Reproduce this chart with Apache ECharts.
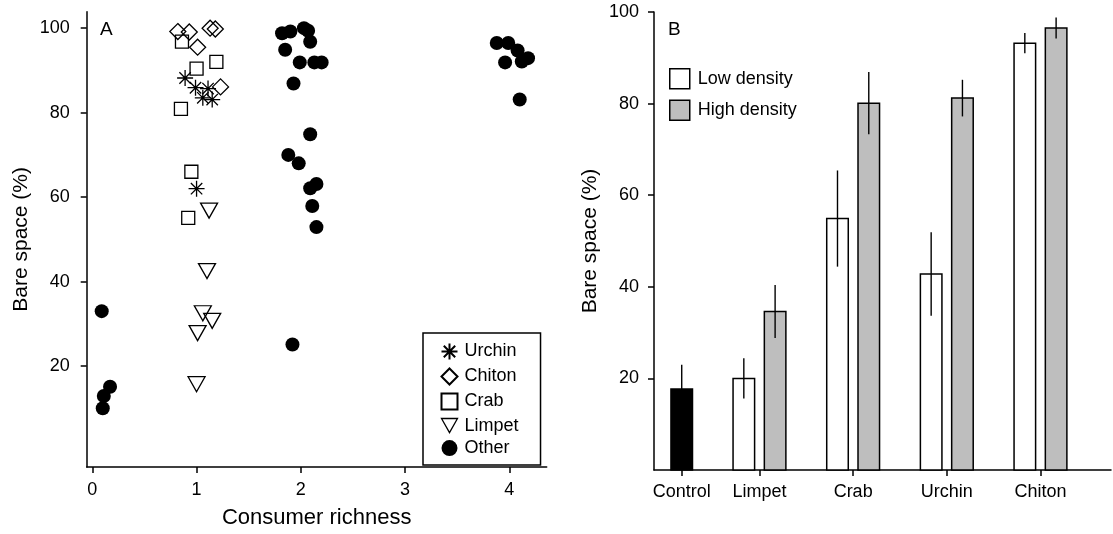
<!DOCTYPE html>
<html><head><meta charset="utf-8">
<script src="https://cdn.jsdelivr.net/npm/echarts@6/dist/echarts.min.js"></script>
<style>html,body{margin:0;padding:0;background:#fff}#c{width:1113px;height:534px}</style>
</head><body><div id="c"></div>
<script>
// ---------- Panel A data (consumer richness, bare space %) ----------
const urchin = [[0.89,88.2],[0.99,85.9],[1.11,85.7],[1.06,83.5],[1.15,83.1],[1.00,62.0]];
const chiton = [[0.82,99.2],[0.93,99.1],[1.01,95.5],[1.13,100],[1.18,99.8],[1.23,86.1]];
const crab   = [[0.86,96.8],[1.00,90.4],[1.19,92.0],[0.85,80.9],[0.95,66.0],[0.92,55.1]];
const limpet = [[1.12,56.8],[1.10,42.5],[1.06,32.5],[1.15,30.7],[1.01,27.8],[1.00,15.7]];
const other  = [[0.09,33.0],[0.17,15.1],[0.11,12.9],[0.10,10.0],
  [1.82,98.8],[1.90,99.2],[2.03,100],[2.07,99.4],[2.09,96.8],[1.85,94.9],
  [1.99,91.9],[2.13,91.9],[2.20,91.9],[1.93,86.9],[2.09,74.9],[1.88,70.0],
  [1.98,68.0],[2.15,63.1],[2.09,62.1],[2.11,57.9],[2.15,52.9],[1.92,25.1],
  [3.88,96.5],[3.99,96.5],[4.08,94.7],[3.96,91.9],[4.12,92.1],[4.18,92.9],[4.10,83.1]];
const ticksAX = [0,1,2,3,4];
const ticksAY = [20,40,60,80,100];

// ---------- Panel B data ----------
const categoriesB = ['Control','Limpet','Crab','Urchin','Chiton'];
const controlMean = 17.7, controlErr = 5.3;
const lowMean  = [20.0, 54.9, 42.8, 93.2];
const lowErr   = [4.4, 10.5, 9.1, 2.2];
const highMean = [34.6, 80.1, 81.2, 96.5];
const highErr  = [5.8, 6.8, 4.0, 2.3];
const ticksBY = [20,40,60,80,100];

// layout (positions of groups on panel B x axis)
const groupPos = [0.17, 1, 2, 3, 4];
const OFF = 0.167, BW = 0.23;

const FONT = "'Liberation Sans', Arial, sans-serif";
const axisLine = {show:true, onZero:false, lineStyle:{color:'#000', width:1.5}};
const axisTick = (vals)=>({show:true, inside:false, length:6, lineStyle:{color:'#000', width:1.5}, customValues: vals});

function barItem(params, api){
  const x = api.value(0), y = api.value(1), e = api.value(2);
  const p0 = api.coord([x, 0]), p1 = api.coord([x, y]);
  const w = api.size([BW, 0])[0];
  const t = api.coord([x, y + e]), b = api.coord([x, y - e]);
  const st = api.style();
  return {type:'group', children:[
    {type:'rect', shape:{x:p0[0]-w/2, y:p1[1], width:w, height:p0[1]-p1[1]},
     style:{fill: st.fill, stroke:'#000', lineWidth:1.5}},
    {type:'line', shape:{x1:t[0], y1:t[1], x2:b[0], y2:b[1]}, style:{stroke:'#000', lineWidth:1.4}}
  ]};
}

const star = 'path://M8,0L8,16M0,8L16,8M2.3,2.3L13.7,13.7M2.3,13.7L13.7,2.3';
const downTri = 'path://M0,0L17,0L8.5,15Z';
const openStyle = {color:'none', borderColor:'#000', borderWidth:1.3, opacity:1};

const option = {
  animation:false,
  textStyle:{fontFamily:FONT, color:'#000'},
  title:[
    {text:'A', left:100, top:20, padding:0, textStyle:{fontFamily:FONT, fontSize:19, fontWeight:'normal', color:'#000'}},
    {text:'B', left:668, top:20, padding:0, textStyle:{fontFamily:FONT, fontSize:19, fontWeight:'normal', color:'#000'}}
  ],
  grid:[
    {left:86.7, top:11.7, width:460, height:458.3},
    {left:654, top:12, width:457, height:458}
  ],
  xAxis:[
    {gridIndex:0, type:'value', min:-0.054, max:4.359,
     name:'Consumer richness', nameLocation:'middle', nameGap:40,
     nameTextStyle:{fontFamily:FONT, fontSize:22, color:'#000'},
     axisLine, axisTick:axisTick(ticksAX), splitLine:{show:false},
     axisLabel:{customValues:ticksAX, fontFamily:FONT, fontSize:18, color:'#000', margin:14}},
    {gridIndex:1, type:'value', min:-0.126, max:4.753,
     axisLine, axisTick:axisTick(groupPos), splitLine:{show:false},
     axisLabel:{customValues:groupPos, fontFamily:FONT, fontSize:18, color:'#000', margin:13,
       formatter:(v)=>categoriesB[groupPos.indexOf(v)] || ''}}
  ],
  yAxis:[
    {gridIndex:0, type:'value', min:-3.9, max:103.9,
     name:'Bare space (%)', nameLocation:'middle', nameGap:55, nameRotate:90,
     nameTextStyle:{fontFamily:FONT, fontSize:21, color:'#000'},
     axisLine, axisTick:axisTick(ticksAY), splitLine:{show:false},
     axisLabel:{customValues:ticksAY, fontFamily:FONT, fontSize:18, color:'#000', margin:17}},
    {gridIndex:1, type:'value', min:0, max:100,
     name:'Bare space (%)', nameLocation:'middle', nameGap:53, nameRotate:90,
     nameTextStyle:{fontFamily:FONT, fontSize:21, color:'#000'},
     axisLine, axisTick:axisTick(ticksBY), splitLine:{show:false},
     axisLabel:{customValues:ticksBY, fontFamily:FONT, fontSize:18, color:'#000', margin:15}}
  ],
  legend:[
    {orient:'vertical', left:423, top:333, itemWidth:16, itemHeight:16, itemGap:4,
     borderColor:'#000', borderWidth:1.5, padding:[8,22,8,16],
     textStyle:{fontFamily:FONT, fontSize:18, color:'#000', padding:[0,0,0,2]},
     data:['Urchin','Chiton','Crab',
       {name:'Limpet', icon:downTri, itemStyle:{color:'none', borderColor:'#000', borderWidth:1.3}},
       'Other']},
    {orient:'vertical', left:669, top:68, itemWidth:20, itemHeight:20, itemGap:10, padding:0,
     textStyle:{fontFamily:FONT, fontSize:18, color:'#000', padding:[0,0,0,3]},
     data:[
       {name:'Low density', icon:'rect', itemStyle:{color:'#fff', borderColor:'#000', borderWidth:1.5}},
       {name:'High density', icon:'rect', itemStyle:{color:'#bebebe', borderColor:'#000', borderWidth:1.5}}
     ]}
  ],
  series:[
    {name:'Urchin', type:'scatter', xAxisIndex:0, yAxisIndex:0, data:urchin, symbol:star, symbolSize:16, itemStyle:openStyle},
    {name:'Chiton', type:'scatter', xAxisIndex:0, yAxisIndex:0, data:chiton, symbol:'diamond', symbolSize:16, itemStyle:openStyle},
    {name:'Crab', type:'scatter', xAxisIndex:0, yAxisIndex:0, data:crab, symbol:'rect', symbolSize:13, itemStyle:openStyle},
    {name:'Limpet', type:'scatter', xAxisIndex:0, yAxisIndex:0, data:limpet, symbol:'triangle', symbolRotate:180, symbolSize:[17,15], itemStyle:openStyle},
    {name:'Other', type:'scatter', xAxisIndex:0, yAxisIndex:0, data:other, symbol:'circle', symbolSize:14, itemStyle:{color:'#000', opacity:1}},
    {name:'Control', type:'custom', xAxisIndex:1, yAxisIndex:1, renderItem:barItem, itemStyle:{color:'#000'},
     data:[[groupPos[0], controlMean, controlErr]]},
    {name:'Low density', type:'custom', xAxisIndex:1, yAxisIndex:1, renderItem:barItem, itemStyle:{color:'#fff'},
     data:lowMean.map((v,i)=>[groupPos[i+1]-OFF, v, lowErr[i]])},
    {name:'High density', type:'custom', xAxisIndex:1, yAxisIndex:1, renderItem:barItem, itemStyle:{color:'#bebebe'},
     data:highMean.map((v,i)=>[groupPos[i+1]+OFF, v, highErr[i]])}
  ]
};
const chart = echarts.init(document.getElementById('c'), null, {renderer:'canvas'});
chart.setOption(option);
</script></body></html>
